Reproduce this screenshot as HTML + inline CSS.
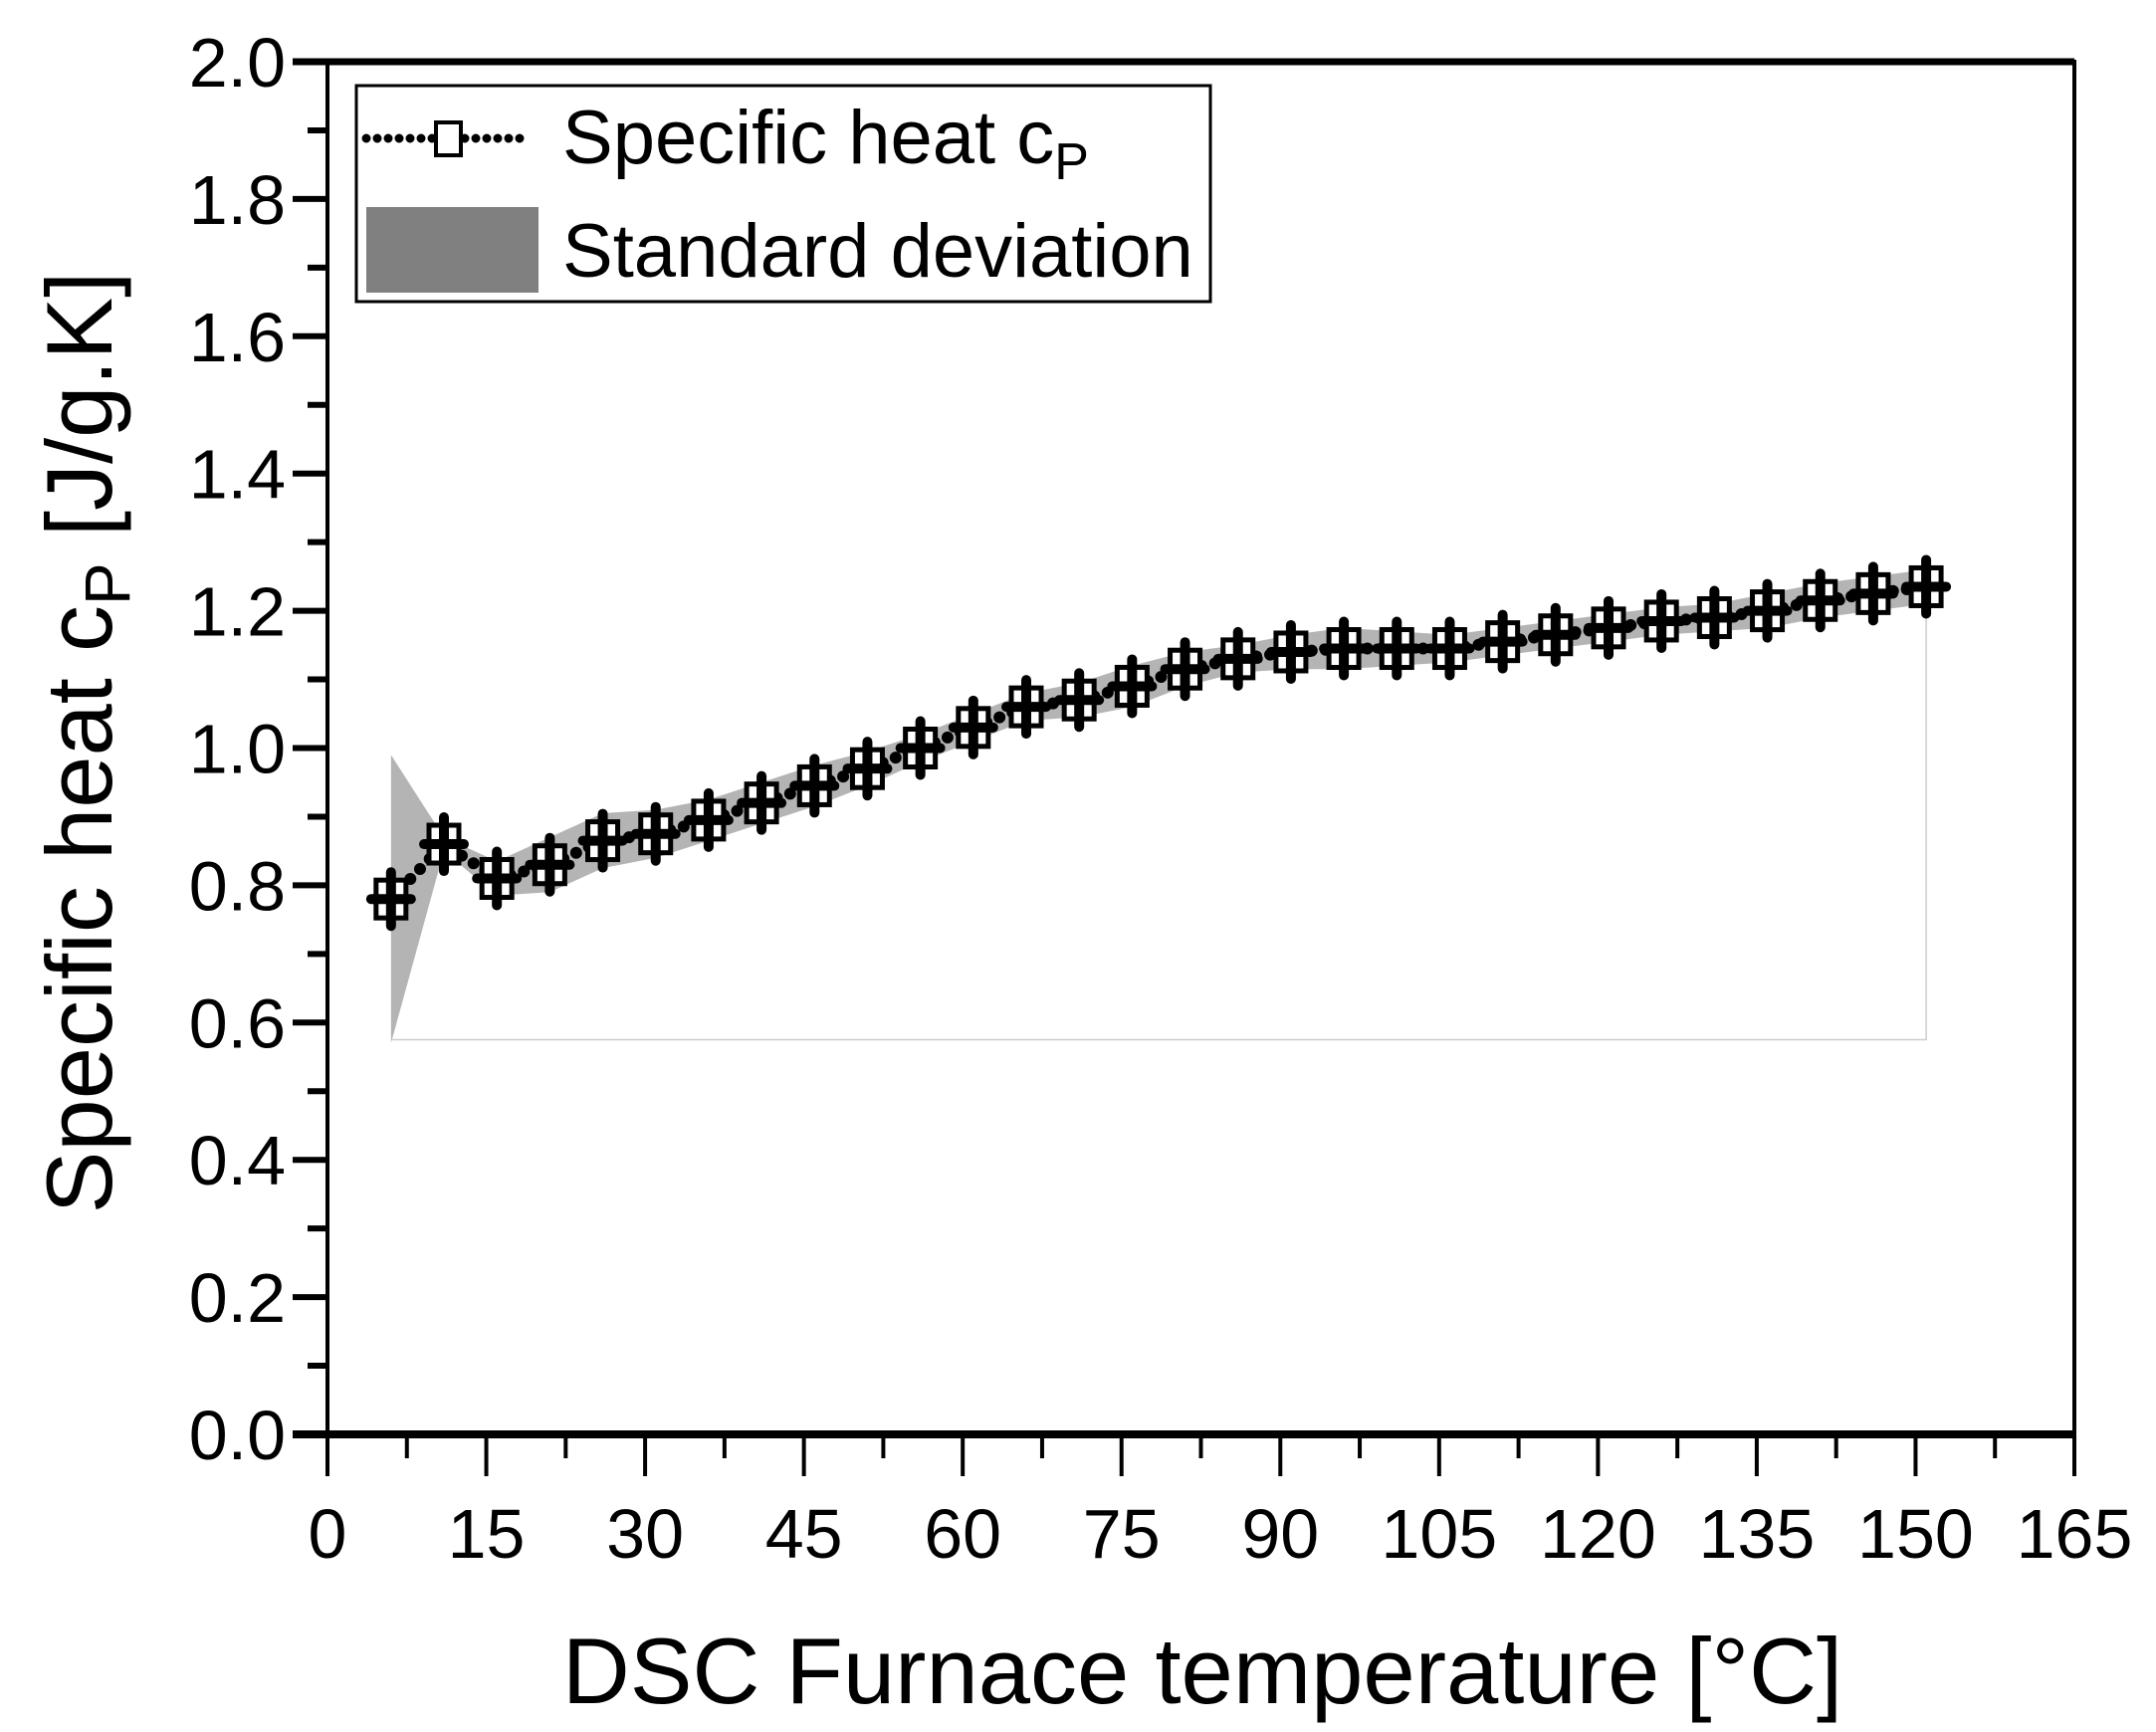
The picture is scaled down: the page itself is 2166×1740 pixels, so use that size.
<!DOCTYPE html>
<html><head><meta charset="utf-8"><style>html,body{margin:0;padding:0;background:#fff}svg{display:block}</style></head>
<body>
<svg id="chart" width="2166" height="1740" xmlns="http://www.w3.org/2000/svg" font-family="'Liberation Sans', sans-serif"></svg>
<script>
const temps = [6,11,16,21,26,31,36,41,46,51,56,61,66,71,76,81,86,91,96,101,106,111,116,121,126,131,136,141,146,151];
const cpValues = [0.78,0.86,0.81,0.83,0.865,0.875,0.895,0.92,0.945,0.97,1.0,1.03,1.06,1.07,1.09,1.115,1.13,1.14,1.145,1.145,1.145,1.155,1.165,1.175,1.185,1.19,1.20,1.215,1.225,1.235];
const stdDev = [0.21,0.01,0.025,0.04,0.04,0.035,0.03,0.03,0.03,0.025,0.02,0.02,0.02,0.025,0.03,0.025,0.02,0.025,0.03,0.025,0.02,0.02,0.02,0.02,0.02,0.02,0.025,0.025,0.025,0.025];
const xTicks = [0,15,30,45,60,75,90,105,120,135,150,165];
const yTicks = [0,0.2,0.4,0.6,0.8,1.0,1.2,1.4,1.6,1.8,2.0];

const NS='http://www.w3.org/2000/svg';
const svg=document.getElementById('chart');
const L=329,R=2084,T=62,B=1441;
const xs=v=>L+(v/165)*(R-L);
const ys=v=>B-(v/2)*(B-T);
function mk(tag,attrs,parent){const e=document.createElementNS(NS,tag);for(const k in attrs)e.setAttribute(k,attrs[k]);(parent||svg).appendChild(e);return e;}

let up=temps.map((t,i)=>xs(t)+','+ys(cpValues[i]+stdDev[i]));
let lo=temps.map((t,i)=>xs(t)+','+ys(cpValues[i]-stdDev[i])).reverse();
const band=mk('polygon',{points:up.concat(lo).join(' '),fill:'#b4b4b4'});


const base=mk('polyline',{points:`${xs(temps[0])},${ys(0.575)} ${xs(temps[temps.length-1])},${ys(0.575)} ${xs(temps[temps.length-1])},${ys(cpValues[cpValues.length-1])}`,fill:'none',stroke:'#ccc','stroke-width':1.5});



const line=mk('polyline',{points:temps.map((t,i)=>xs(t)+','+ys(cpValues[i])).join(' '),fill:'none',stroke:'#000','stroke-width':12,'stroke-dasharray':'0 14','stroke-linecap':'round'});



temps.forEach((t,i)=>{
  const cx=xs(t),cy=ys(cpValues[i]);
  const g=mk('g',{});
  
  
  mk('rect',{x:cx-15,y:cy-19,width:30,height:38,fill:'#fff',stroke:'#000','stroke-width':5},g);
  mk('line',{x1:cx,y1:cy-27,x2:cx,y2:cy+27,stroke:'#000','stroke-width':10,'stroke-linecap':'round'},g);
  mk('line',{x1:cx-20,y1:cy,x2:cx+20,y2:cy,stroke:'#000','stroke-width':10,'stroke-linecap':'round'},g);
});

const frame=mk('rect',{x:L,y:T,width:R-L,height:B-T,fill:'none',stroke:'#000','stroke-width':4});


mk('line',{x1:L-35,y1:B,x2:R,y2:B,stroke:'#000','stroke-width':8});
mk('line',{x1:L-35,y1:T,x2:R,y2:T,stroke:'#000','stroke-width':7});

xTicks.forEach((v,i)=>{
  const x=xs(v);
  mk('line',{x1:x,y1:B,x2:x,y2:B+42,stroke:'#000','stroke-width':4});
  if(i<xTicks.length-1){const xm=xs(v+7.5);mk('line',{x1:xm,y1:B,x2:xm,y2:B+24,stroke:'#000','stroke-width':4});}
  const tx=mk('text',{x:x,y:1565,'font-size':70,'text-anchor':'middle'});
  tx.textContent=v;
  
  
});
yTicks.forEach((v,i)=>{
  const y=ys(v);
  mk('line',{x1:L-35,y1:y,x2:L,y2:y,stroke:'#000','stroke-width':6});
  if(i<yTicks.length-1){const ym=ys(v+0.1);mk('line',{x1:L-20,y1:ym,x2:L,y2:ym,stroke:'#000','stroke-width':6});}
  const tx=mk('text',{x:287,y:y+25,'font-size':70,'text-anchor':'end'});
  tx.textContent=v.toFixed(1);
  
  
});
</script>
<svg style="position:absolute;left:0;top:0" width="2166" height="1740" xmlns="http://www.w3.org/2000/svg" font-family="'Liberation Sans', sans-serif">
  <text x="1208" y="1711" font-size="94" text-anchor="middle">DSC Furnace temperature [°C]</text>
  <text transform="translate(112,746) rotate(-90)" font-size="94" text-anchor="middle">Specific heat c<tspan font-size="64" dy="18">P</tspan><tspan dy="-18"> [J/g.K]</tspan></text>
  <g>
    <rect x="358" y="86" width="858" height="217" fill="#fff" stroke="#000" stroke-width="3"/>
    <line x1="368" y1="139" x2="532" y2="139" stroke="#000" stroke-width="9" stroke-dasharray="0 11" stroke-linecap="round"/>
    <rect x="438" y="123" width="25" height="33" fill="#fff" stroke="#000" stroke-width="4"/>
    <text x="565" y="164" font-size="76">Specific heat c<tspan font-size="52" dy="16">P</tspan></text>
    <rect x="368" y="208" width="173" height="86" fill="#808080"/>
    <text x="565" y="278" font-size="76">Standard deviation</text>
  </g>
</svg>
</body></html>
